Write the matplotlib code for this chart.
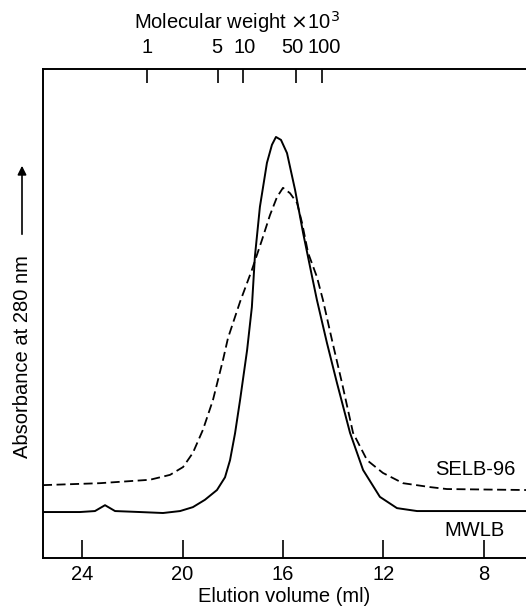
import matplotlib
matplotlib.use("Agg")
import matplotlib.pyplot as plt
import matplotlib.transforms as mtransforms
from matplotlib.patches import FancyArrowPatch

plt.rcParams['font.family'] = ['Liberation Sans', 'DejaVu Sans']

# elution volume (ml) and absorbance (arbitrary units)
mwlb_vol = [25.56, 24.09, 23.49, 23.09, 22.69, 21.70, 20.78, 20.10, 19.59, 19.11,
            18.63, 18.31, 18.11, 17.91, 17.71, 17.43, 17.24, 17.12, 16.92, 16.64,
            16.44, 16.28, 16.08, 15.84, 15.52, 15.20, 14.84, 14.65, 14.25, 13.85,
            13.33, 12.81, 12.14, 11.46, 10.66, 9.35, 6.32]
mwlb_abs = [0.094, 0.094, 0.096, 0.108, 0.096, 0.094, 0.092, 0.096, 0.104, 0.119,
            0.139, 0.165, 0.200, 0.255, 0.323, 0.425, 0.513, 0.616, 0.718, 0.808,
            0.845, 0.861, 0.855, 0.828, 0.753, 0.665, 0.575, 0.528, 0.440, 0.358,
            0.256, 0.180, 0.125, 0.102, 0.096, 0.096, 0.096]

selb_vol = [25.56, 23.29, 21.30, 20.50, 19.98, 19.59, 19.19, 18.79, 18.39, 18.19,
            17.71, 17.24, 16.84, 16.52, 16.24, 16.00, 15.72, 15.44, 15.24, 15.00,
            14.65, 14.41, 14.05, 13.65, 13.21, 12.65, 12.02, 11.22, 10.14, 9.47, 6.32]
selb_abs = [0.149, 0.153, 0.160, 0.170, 0.186, 0.215, 0.262, 0.323, 0.405, 0.450,
            0.524, 0.589, 0.650, 0.701, 0.738, 0.757, 0.746, 0.726, 0.685, 0.624,
            0.575, 0.528, 0.446, 0.358, 0.256, 0.200, 0.174, 0.153, 0.145, 0.141, 0.139]

vol_ticks = [24, 20, 16, 12, 8]
# molecular weight markers (x10^3) and their elution volumes
mw_labels = ['1', '5', '10', '50', '100']
mw_vol = [21.4, 18.6, 17.6, 15.5, 14.45]
mw_nudge = [0, -1, 2, -3, 2]   # label offsets in px, as printed

fs = 14.5

fig = plt.figure(figsize=(5.26, 6.13), dpi=100)
ax = fig.add_axes([43 / 526, 55 / 613, 483 / 526, 489 / 613])

ax.plot(mwlb_vol, mwlb_abs, color='black', lw=1.4)
ax.plot(selb_vol, selb_abs, color='black', lw=1.3, dashes=(5, 2.5))

ax.set_xlim(25.56, 6.32)
ax.set_ylim(0, 1)
ax.spines['right'].set_visible(False)
for s in ['left', 'bottom', 'top']:
    ax.spines[s].set_linewidth(1.4)

ax.set_xticks(vol_ticks)
ax.set_xticklabels([str(v) for v in vol_ticks], fontsize=fs)
ax.tick_params(axis='x', direction='in', length=13, width=1.2, pad=5)
ax.set_yticks([])
ax.set_xlabel('Elution volume (ml)', fontsize=fs, labelpad=2)

top = ax.secondary_xaxis('top')
top.set_xticks(mw_vol)
top.set_xticklabels([])
top.tick_params(direction='in', length=10, width=1.2)
top.spines['top'].set_visible(False)

blend = mtransforms.blended_transform_factory(ax.transData, ax.transAxes)
for v, lab, dx in zip(mw_vol, mw_labels, mw_nudge):
    tr = blend + mtransforms.ScaledTranslation(dx / 100, 0, fig.dpi_scale_trans)
    ax.text(v, 1.024, lab, fontsize=fs, ha='center', va='bottom', transform=tr)

fig.text(237 / 526, 1 - 22 / 613, 'Molecular weight $\\times$10$^3$',
         fontsize=fs, ha='center', va='center')

fig.text(23 / 526, 1 - 357 / 613, 'Absorbance at 280 nm', fontsize=fs,
         rotation=90, ha='center', va='center')
fig.add_artist(FancyArrowPatch(
    (22 / 526, 1 - 237 / 613), (22 / 526, 1 - 163 / 613),
    transform=fig.transFigure, arrowstyle='-|>', mutation_scale=13,
    color='black', lw=1.2))

ax.text(8.35, 0.18, 'SELB-96', fontsize=fs, ha='center', va='center')
ax.text(8.39, 0.057, 'MWLB', fontsize=fs, ha='center', va='center')

fig.savefig('out.png', dpi=100)
